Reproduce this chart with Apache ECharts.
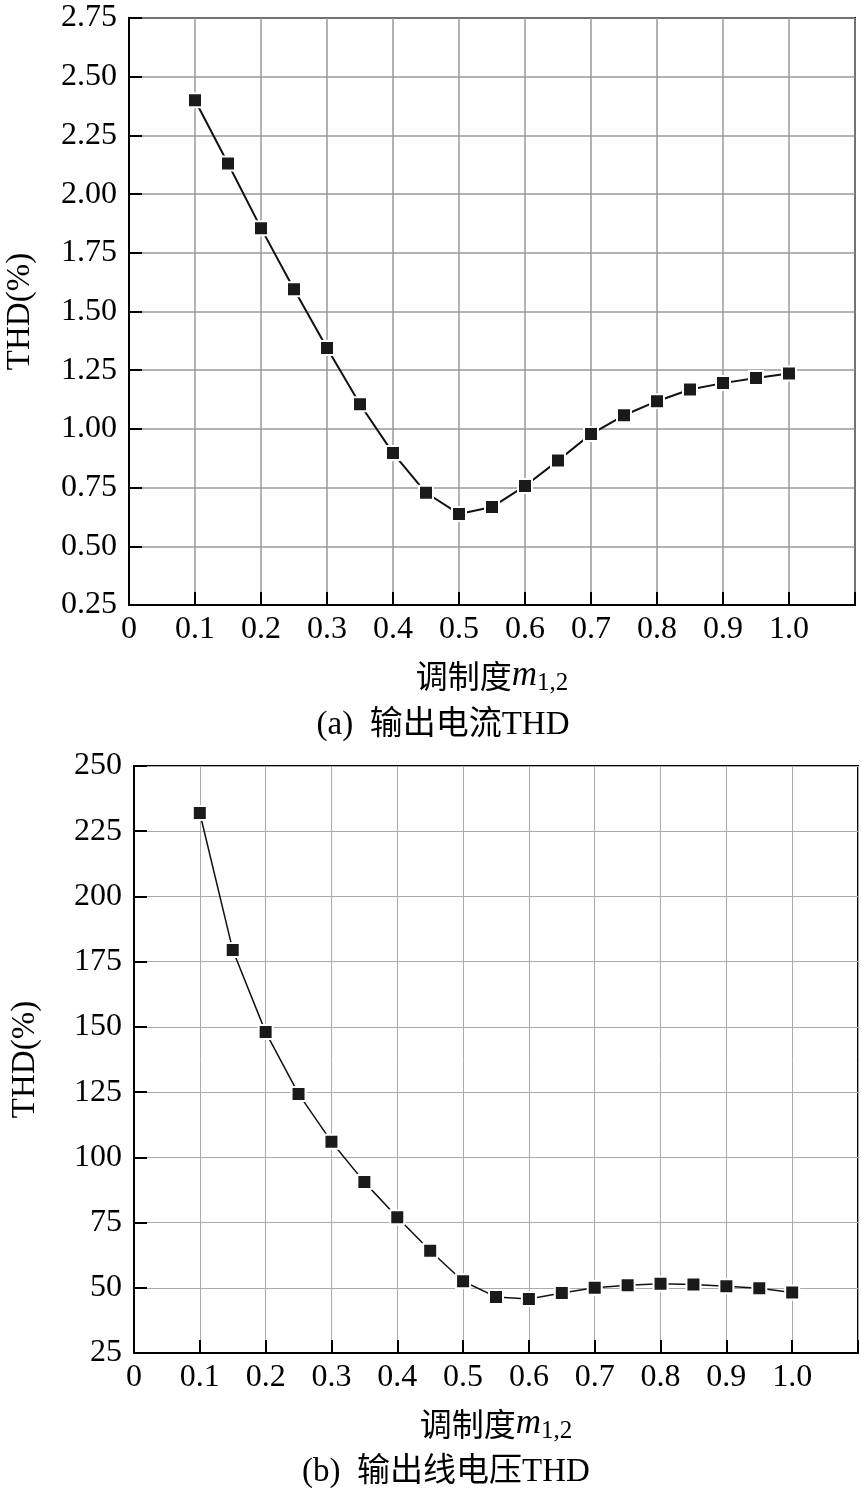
<!DOCTYPE html>
<html>
<head>
<meta charset="utf-8">
<script src="https://cdn.jsdelivr.net/npm/echarts@6/dist/echarts.min.js"></script>
<style>html,body{margin:0;padding:0;background:#fff;}#c{width:861px;height:1495px;}</style>
</head>
<body>
<div id="c"></div>
<script>
// ---- data ----
const mValues = [0.1, 0.15, 0.2, 0.25, 0.3, 0.35, 0.4, 0.45, 0.5, 0.55, 0.6, 0.65, 0.7, 0.75, 0.8, 0.85, 0.9, 0.95, 1.0];
const currentTHD = [2.40, 2.13, 1.855, 1.595, 1.345, 1.105, 0.897, 0.728, 0.638, 0.667, 0.757, 0.865, 0.978, 1.058, 1.118, 1.168, 1.195, 1.217, 1.236];
const voltageTHD = [232, 179.5, 148, 124.3, 106, 90.5, 77, 64.2, 52.5, 46.5, 45.7, 48, 50, 51, 51.5, 51.3, 50.6, 49.8, 48.2];
const captionA = '(a)  输出电流THD';
const captionB = '(b)  输出线电压THD';

const serif = "'Liberation Serif', 'Times New Roman', 'Noto Sans CJK SC', serif";
const cjk = "'Noto Sans CJK SC', 'Liberation Serif', serif";

function pairs(xs, ys) { return xs.map((x, i) => [x, ys[i]]); }

function xAxisCfg(gridIndex, gridColor, gridWidth) {
  return {
    type: 'value', gridIndex: gridIndex, min: 0, max: 1.1, interval: 0.1,
    axisLine: { show: true, lineStyle: { color: '#000', width: 2 } },
    axisTick: { show: true, inside: true, length: 13, lineStyle: { color: '#000', width: 2 } },
    splitLine: { show: true, lineStyle: { color: gridColor, width: gridWidth } },
    axisLabel: {
      color: '#000', fontFamily: serif, fontSize: 32, margin: 9,
      formatter: function (v) { if (v > 1.05) return ''; if (v === 0) return '0'; return v.toFixed(1); }
    },
    name: '{a|调制度}{m|m}{s|1,2}',
    nameLocation: 'middle', nameGap: 50,
    nameTextStyle: {
      rich: {
        a: { fontFamily: cjk, fontSize: 32, color: '#000' },
        m: { fontFamily: serif, fontStyle: 'italic', fontSize: 35, color: '#000' },
        s: { fontFamily: serif, fontSize: 25, color: '#000', padding: [16, 0, 0, 0] }
      }
    }
  };
}

function yAxisCfg(gridIndex, min, max, interval, dec, gridColor, gridWidth) {
  return {
    type: 'value', gridIndex: gridIndex, min: min, max: max, interval: interval,
    axisLine: { show: true, lineStyle: { color: '#000', width: 2 } },
    axisTick: { show: true, inside: true, length: 13, lineStyle: { color: '#000', width: 2 } },
    splitLine: { show: true, lineStyle: { color: gridColor, width: gridWidth } },
    axisLabel: {
      color: '#000', fontFamily: serif, fontSize: 32, margin: 12,
      formatter: function (v) { return v.toFixed(dec); }
    },
    name: 'THD(%)', nameLocation: 'middle', nameGap: 92,
    nameTextStyle: { fontFamily: serif, fontSize: 33, color: '#000' }
  };
}

function seriesCfg(idx, data, lw) {
  return {
    type: 'line', xAxisIndex: idx, yAxisIndex: idx, data: data,
    symbol: 'rect', symbolSize: 14,
    itemStyle: { color: '#1a1a1a', borderColor: '#fff', borderWidth: 2 },
    lineStyle: { color: '#111', width: lw },
    emphasis: { disabled: true }, silent: true, animation: false, z: 5
  };
}

const chart = echarts.init(document.getElementById('c'), null, { renderer: 'canvas' });
chart.setOption({
  backgroundColor: '#fff',
  animation: false,
  grid: [
    { left: 129, top: 18, width: 726, height: 587, show: true, borderColor: '#000', borderWidth: 2, backgroundColor: 'transparent', containLabel: false, outerBoundsMode: 'none' },
    { left: 134, top: 766, width: 724, height: 587, show: true, borderColor: '#000', borderWidth: 2, backgroundColor: 'transparent', containLabel: false, outerBoundsMode: 'none' }
  ],
  title: [
    { text: captionA, left: 438, top: 704, textAlign: 'center',
      textStyle: { fontFamily: serif, fontSize: 33, fontWeight: 'normal', color: '#000' } },
    { text: captionB, left: 441, top: 1451, textAlign: 'center',
      textStyle: { fontFamily: serif, fontSize: 33, fontWeight: 'normal', color: '#000' } }
  ],
  xAxis: [xAxisCfg(0, '#999', 1.5), xAxisCfg(1, '#aaa', 1)],
  yAxis: [yAxisCfg(0, 0.25, 2.75, 0.25, 2, '#999', 1.5), yAxisCfg(1, 25, 250, 25, 0, '#aaa', 1)],
  series: [seriesCfg(0, pairs(mValues, currentTHD), 2), seriesCfg(1, pairs(mValues, voltageTHD), 1.5)]
});
</script>
</body>
</html>
